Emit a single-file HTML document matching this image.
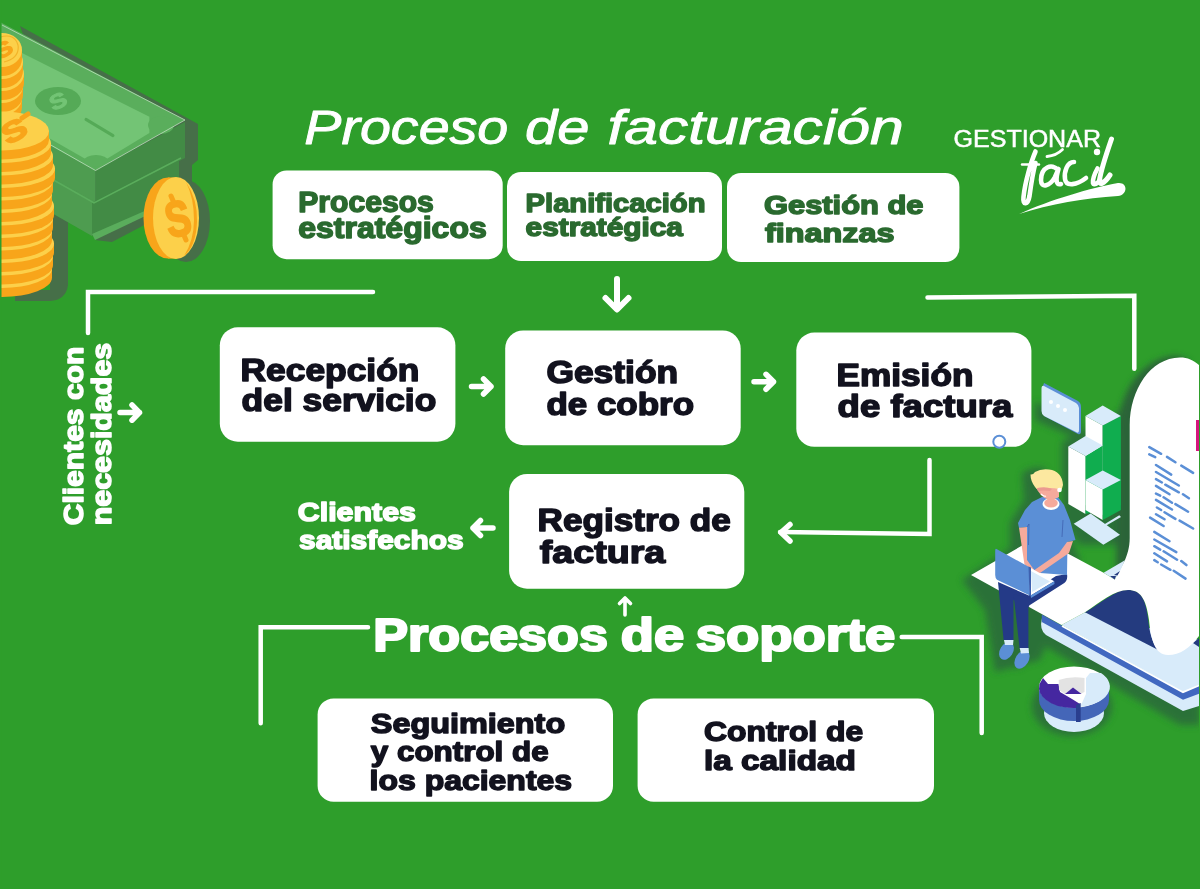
<!DOCTYPE html>
<html><head><meta charset="utf-8"><style>
html,body{margin:0;padding:0;background:#2e9e2b;}
body{width:1200px;height:889px;overflow:hidden;position:relative;}
svg{position:absolute;left:0;top:0;display:block;will-change:transform;}
text{font-family:"Liberation Sans",sans-serif;}
</style></head><body>
<svg width="1200" height="889" viewBox="0 0 1200 889">
<rect width="1200" height="889" fill="#2e9e2b"/>
<defs>
<filter id="blur3" x="-50%" y="-50%" width="200%" height="200%"><feGaussianBlur stdDeviation="3"/></filter>
<filter id="blur5" x="-50%" y="-50%" width="200%" height="200%"><feGaussianBlur stdDeviation="3.5"/></filter>
</defs>
<!-- money shadow -->
<g fill="#466f48">
<polygon points="20,26 198,124 198,160 192,165 192,200 112,242 95,240 95,235"/>
<path d="M50,212 L68,222 L68,285 Q66,300 50,301 L15,301 L15,290 L50,290 Z"/>
</g>
<!-- money stack -->
<polygon points="0,114 95.7,170 95.7,204 0,150" fill="#4e9c50"/>
<polygon points="95.7,170 185,122 185,158 95.7,204" fill="#428b45"/>
<polygon points="50,176 94,201 92,236 50,212" fill="#4e9c50"/>
<polygon points="92,203 179,157 179,200 92,236" fill="#428b45"/><polyline points="50,178 94,203 181,158" fill="none" stroke="#5aad5c" stroke-width="1.5"/>
<polygon points="92,234 179,196 181,199 95,240" fill="#5aad5c"/>
<polygon points="0,22 185,120 95.5,170.5 0,118" fill="#5aae5c"/>
<polygon points="0,42 149.4,116.7 149.4,133 107.5,158.6 84.6,158.6 0,110" fill="#73c475"/>
<ellipse cx="161" cy="125" rx="13" ry="9" fill="#5aae5c"/>
<ellipse cx="96" cy="161" rx="12" ry="6" fill="#5aae5c"/>
<ellipse cx="58" cy="101" rx="23" ry="14" fill="#55aa57"/>
<g transform="translate(58,101) rotate(-25) scale(1,0.8)"><text x="0" y="9" font-size="26" font-weight="bold" fill="#73c475" stroke="#73c475" stroke-width="1.2" text-anchor="middle" style="font-family:'Liberation Sans'">S</text></g>
<line x1="86" y1="119.4" x2="113" y2="135.6" stroke="#55aa57" stroke-width="3" stroke-linecap="round"/>
<polyline points="2,25 185,120 95.5,170.5 50.8,145" fill="none" stroke="#d8ecd8" stroke-width="0.8" opacity="0.8"/>
<!-- single coin -->
<ellipse cx="186" cy="221" rx="24" ry="41" fill="#466f48"/>
<ellipse cx="168" cy="218" rx="24.5" ry="40.5" fill="#f8a51a"/>
<rect x="168" y="177.5" width="8" height="81" fill="#f8a51a"/>
<ellipse cx="176" cy="218" rx="23" ry="41" fill="#fcd04a"/>
<path d="M186,182 Q198,200 197,222 Q196,246 184,256 Q194,240 194,220 Q194,198 186,182 Z" fill="#f8a51a"/>
<g transform="translate(178,219) rotate(-12) scale(0.75,1)"><text x="0" y="17" font-size="50" font-weight="bold" fill="#f8a51a" stroke="#f8a51a" stroke-width="2" text-anchor="middle" style="font-family:'Liberation Sans'">S</text></g>
<line x1="171" y1="196" x2="174" y2="203" stroke="#f8a51a" stroke-width="5" stroke-linecap="round"/>
<line x1="183" y1="233" x2="186" y2="240" stroke="#f8a51a" stroke-width="5" stroke-linecap="round"/>
<!-- back coin stack -->
<g><rect x="-18" y="98" width="40" height="9" fill="#f8a51a"/><ellipse cx="2" cy="107" rx="20" ry="17" fill="#f8a51a"/><ellipse cx="2" cy="98" rx="20" ry="17" fill="#fcd04a"/><rect x="-19" y="86" width="42" height="9" fill="#f8a51a"/><ellipse cx="2" cy="95" rx="21" ry="17" fill="#f8a51a"/><ellipse cx="2" cy="86" rx="21" ry="17" fill="#fcd04a"/><rect x="-20" y="74" width="44" height="9" fill="#f8a51a"/><ellipse cx="2" cy="83" rx="22" ry="17" fill="#f8a51a"/><ellipse cx="2" cy="74" rx="22" ry="17" fill="#fcd04a"/><rect x="-19" y="62" width="42" height="9" fill="#f8a51a"/><ellipse cx="2" cy="71" rx="21" ry="17" fill="#f8a51a"/><ellipse cx="2" cy="62" rx="21" ry="17" fill="#fcd04a"/><rect x="-18" y="50" width="40" height="9" fill="#f8a51a"/><ellipse cx="2" cy="59" rx="20" ry="17" fill="#f8a51a"/><ellipse cx="2" cy="50" rx="20" ry="17" fill="#fcd04a"/>
<path d="M-8,40 Q14,30 18,45 Q20,58 4,62" fill="none" stroke="#f3b42a" stroke-width="1.2"/>
<g transform="translate(4,50) rotate(-30) scale(1,0.8)"><text x="0" y="8" font-size="26" font-weight="bold" fill="#f8a51a" stroke="#f8a51a" stroke-width="1.5" text-anchor="middle" style="font-family:'Liberation Sans'">S</text></g>
</g>
<!-- front coin stack -->
<g><rect x="-48" y="268.5" width="100" height="9" fill="#f8a51a"/><ellipse cx="2" cy="277.5" rx="50" ry="19.5" fill="#f8a51a"/><ellipse cx="2" cy="268.5" rx="50" ry="19.5" fill="#fcd04a"/><rect x="-49" y="256.0" width="102" height="9" fill="#f8a51a"/><ellipse cx="2" cy="265.0" rx="51" ry="19.5" fill="#f8a51a"/><ellipse cx="2" cy="256.0" rx="51" ry="19.5" fill="#fcd04a"/><rect x="-50" y="243.5" width="104" height="9" fill="#f8a51a"/><ellipse cx="2" cy="252.5" rx="52" ry="19.5" fill="#f8a51a"/><ellipse cx="2" cy="243.5" rx="52" ry="19.5" fill="#fcd04a"/><rect x="-48" y="231.0" width="100" height="9" fill="#f8a51a"/><ellipse cx="2" cy="240.0" rx="50" ry="19.5" fill="#f8a51a"/><ellipse cx="2" cy="231.0" rx="50" ry="19.5" fill="#fcd04a"/><rect x="-49" y="218.5" width="102" height="9" fill="#f8a51a"/><ellipse cx="2" cy="227.5" rx="51" ry="19.5" fill="#f8a51a"/><ellipse cx="2" cy="218.5" rx="51" ry="19.5" fill="#fcd04a"/><rect x="-50" y="206.0" width="104" height="9" fill="#f8a51a"/><ellipse cx="2" cy="215.0" rx="52" ry="19.5" fill="#f8a51a"/><ellipse cx="2" cy="206.0" rx="52" ry="19.5" fill="#fcd04a"/><rect x="-48" y="193.5" width="100" height="9" fill="#f8a51a"/><ellipse cx="2" cy="202.5" rx="50" ry="19.5" fill="#f8a51a"/><ellipse cx="2" cy="193.5" rx="50" ry="19.5" fill="#fcd04a"/><rect x="-49" y="181.0" width="102" height="9" fill="#f8a51a"/><ellipse cx="2" cy="190.0" rx="51" ry="19.5" fill="#f8a51a"/><ellipse cx="2" cy="181.0" rx="51" ry="19.5" fill="#fcd04a"/><rect x="-51" y="168.5" width="106" height="9" fill="#f8a51a"/><ellipse cx="2" cy="177.5" rx="53" ry="19.5" fill="#f8a51a"/><ellipse cx="2" cy="168.5" rx="53" ry="19.5" fill="#fcd04a"/><rect x="-49" y="156.0" width="102" height="9" fill="#f8a51a"/><ellipse cx="2" cy="165.0" rx="51" ry="19.5" fill="#f8a51a"/><ellipse cx="2" cy="156.0" rx="51" ry="19.5" fill="#fcd04a"/><rect x="-47" y="143.5" width="98" height="9" fill="#f8a51a"/><ellipse cx="2" cy="152.5" rx="49" ry="19.5" fill="#f8a51a"/><ellipse cx="2" cy="143.5" rx="49" ry="19.5" fill="#fcd04a"/><rect x="-45" y="131.0" width="94" height="9" fill="#f8a51a"/><ellipse cx="2" cy="140.0" rx="47" ry="19.5" fill="#f8a51a"/><ellipse cx="2" cy="131.0" rx="47" ry="19.5" fill="#fcd04a"/>
<g transform="translate(14,131) rotate(-28) scale(1,0.75)"><text x="0" y="13" font-size="38" font-weight="bold" fill="#f8a51a" stroke="#f8a51a" stroke-width="2" text-anchor="middle" style="font-family:'Liberation Sans'">S</text></g>
<line x1="22" y1="118" x2="28" y2="114" stroke="#f8a51a" stroke-width="5" stroke-linecap="round"/>
</g>
<rect x="0" y="0" width="1.5" height="889" fill="#2e9e2b"/>
<!-- right-side shadows -->
<g fill="#2b6a3a" filter="url(#blur5)" opacity="0.85">
<path d="M1035,402 L1080,420 L1080,440 L1035,420 Z"/>
<path d="M1062,442 L1085,430 L1125,410 L1125,545 L1080,545 L1062,520 Z"/>
<path d="M962,580 L1015,545 L1060,515 L1080,560 L1040,660 L995,672 L985,610 Z"/>
<path d="M1022,474 Q1030,466 1045,468 L1050,500 L1060,510 L1062,560 L1010,560 L1010,523 L1024,500 Z"/>
<path d="M988,585 L1010,585 L1008,650 L1022,668 L995,668 Z"/>
<path d="M1034,620 L1200,700 L1200,725 L1180,725 L1034,640 Z"/>
<ellipse cx="1072" cy="706" rx="40" ry="30"/>
</g>
<g fill="#2a6338" filter="url(#blur3)">
<path d="M1118,432 C1118,390 1144,358 1174,356 C1180,356 1186,358 1190,362 L1150,420 L1150,600 L1116,600 Z"/>
</g>
<!-- lower slab -->
<path d="M1042,618 L1183,692 L1199,685 L1199,706 L1183,711 L1046,635 Q1039,630 1042,618 Z" fill="#d8ebfa"/>
<polygon points="1041.8,614.5 1183,692.2 1199,685.5 1199,693.7 1183,699.8 1041.8,622" fill="#4168c0"/>
<!-- upper slab face -->
<polygon points="1061.5,625 1085,612.3 1199,640 1199,685.5 1183,692" fill="#d8ebfa"/>
<polyline points="1062,626 1183,692.2 1199,685.5" fill="none" stroke="#ffffff" stroke-width="1.8"/>
<!-- navy curl -->
<path d="M1085,612.3 C1100,604 1115,590 1128,590 C1142,590 1146,602 1148,618 C1150,640 1156,652 1166,654 Z" fill="#243b7f"/>
<polygon points="1193,643 1199,638 1199,647" fill="#243b7f"/>
<!-- receipt paper & flat sheet -->
<path d="M1129.7,425 C1130,390 1150,358 1180,357.5 C1188,357.5 1193,360 1199,365 L1199,636 C1190,648 1180,655 1168,655 C1155,655 1151,640 1149,620 C1146,598 1140,590 1128,590 C1115,590 1100,602 1085,612.3 L1061.5,625 L971,575 L1037,537 L1103.6,572.8 L1114.7,579.5 L1124.9,560.3 C1127,555 1129.7,548 1129.7,538 Z" fill="#ffffff"/>
<polygon points="1103.6,572.8 1124.9,560.3 1120,571 1114.7,579.5" fill="#d8ebfa"/>
<polygon points="1110,576 1114.7,579.5 1116,576" fill="#243b7f"/><polygon points="1114,575 1120,571 1117.5,575.5" fill="#243b7f"/>
<!-- receipt dashes -->
<g stroke="#5b8fd6" stroke-width="2.5" stroke-linecap="round" fill="none">
<path d="M1149.3,447.1 L1161.1,453.8 M1149.3,454.3 L1155.2,457.2 M1167.0,456.9 L1175.4,462.3 M1181.3,465.6 L1193.1,472.9 M1156.0,465.0 L1171.2,474.6 M1156.0,472.0 L1178.8,485.5 M1156.0,479.1 L1161.9,482.5 M1156.0,485.9 L1169.5,494.3 M1165.3,484.7 L1178.8,492.3 M1183.0,494.3 L1188.9,498.2 M1156.0,493.6 L1160.2,495.6 M1163.6,497.3 L1172.0,502.7 M1156.0,499.9 L1172.0,509.5 M1175.4,504.1 L1188.1,511.7 M1156.9,507.5 L1161.1,510.0 M1164.5,512.2 L1175.4,518.9 M1156.0,514.2 L1164.5,519.3 M1150.1,517.6 L1163.6,526.0 M1179.6,520.6 L1193.1,528.5 M1154.3,531.9 L1169.5,541.2 M1154.3,539.5 L1176.3,552.1 M1154.3,546.2 L1160.2,549.6 M1163.6,551.3 L1177.1,559.7 M1154.3,553.3 L1167.0,561.4 M1154.3,560.1 L1157.7,562.3 M1181.3,561.1 L1186.4,565.1 M1161.1,564.5 L1170.4,569.8 M1173.7,570.7 L1185.5,578.6"/>
</g>
<rect x="1196" y="420" width="4" height="31" fill="#d6157e"/>
<rect x="1199" y="362" width="1" height="527" fill="#2e9e2b"/>
<!-- floor tile -->
<polygon points="1073.7,523.7 1090.6,513.6 1120,534.7 1103.3,544.8" fill="#d8ebfa"/>
<polygon points="1104,524.6 1119.3,515.3 1121,517 1105,526.3" fill="#d8ebfa"/>
<!-- bar chart -->
<g>
<polygon points="1085.5,416 1102.7,425.5 1102.7,515 1085.5,505" fill="#ffffff"/>
<polygon points="1102.7,425.5 1120.9,416 1120.9,505 1102.7,515" fill="#10ad4f"/>
<polygon points="1102.7,405.4 1120.9,416 1102.7,425.5 1085.5,416" fill="#d8ebfa"/>
<polygon points="1068.3,446.5 1085.5,456 1085.5,514 1068.3,504" fill="#ffffff"/>
<polygon points="1085.5,456 1102.7,445.6 1102.7,510 1085.5,514" fill="#10ad4f"/>
<polygon points="1085.5,436 1102.7,445.6 1085.5,456 1068.3,446.5" fill="#d8ebfa"/>
<polygon points="1085.5,480 1102.7,489.6 1102.7,520 1085.5,510" fill="#ffffff"/>
<polygon points="1102.7,489.6 1120.9,480 1120.9,510 1102.7,520" fill="#10ad4f"/>
<polygon points="1102.7,470.4 1120.9,480 1102.7,489.6 1085.5,480" fill="#d8ebfa"/>
</g>
<!-- chat bubble -->
<path d="M1044,383 L1078,401 Q1081,403 1081,407 L1081,431 Q1081,435 1078,434 L1046,417 Q1043,415 1043,411 L1043,386 Z" fill="#5b8fd6"/>
<path d="M1044,386 L1076,403 Q1079,405 1079,408 L1079,430 Q1079,434 1076,432 L1044,416 Q1041.5,414 1041.5,411 L1041.5,389 Q1041.5,385 1044,386 Z" fill="#d8ebfa"/>
<g fill="#ffffff"><circle cx="1051" cy="402" r="2"/><circle cx="1058" cy="406" r="2"/><circle cx="1065" cy="410" r="2"/></g>
<!-- person -->
<g>
<!-- legs -->
<path d="M998,582 L1030,596 L1029,607 L1013.5,600 L1013.5,640 L1003.6,640 Z" fill="#243a87"/>
<path d="M1013.5,594 L1028.4,598 L1029.6,593 L1056,576 L1067,574 Q1068,580 1064.3,583 L1028.4,606 L1028.4,649 L1019.7,649 Z" fill="#243a87"/>
<ellipse cx="1006.5" cy="651" rx="6.5" ry="9.5" transform="rotate(32 1006.5 651)" fill="#5b8fd6"/>
<ellipse cx="1022" cy="659.5" rx="6.5" ry="10" transform="rotate(32 1022 659.5)" fill="#5b8fd6"/>
<path d="M1004,640 L1013.5,640 L1013,645 L1005,645 Z" fill="#d8ebfa"/>
<path d="M1019.7,648 L1028.6,648 L1029,653 L1021,653.5 Z" fill="#d8ebfa"/>
<!-- shirt -->
<path d="M1032,502 L1042,497 L1058,497 L1064,505 L1070,520 L1075.5,540 L1067.5,542 L1067,575 L1026.7,572 L1027,527 L1019,528 L1018,523 L1025,510 Z" fill="#5b8fd6"/>
<path d="M1027,527 L1029,524 L1028.5,545" stroke="#3f62b0" stroke-width="0.8" fill="none"/>
<path d="M1063,520 L1062,537" stroke="#3f62b0" stroke-width="0.8" fill="none"/>
<!-- arms -->
<path d="M1019,527.7 L1027,527 L1027,560 L1035,571 L1033,575 L1024.4,564 Z" fill="#f5aa9c"/>
<path d="M1067,542 L1073,541 L1069,553 L1040,573 L1034,576 L1033,571 L1059,553 Z" fill="#f5aa9c"/>
<!-- laptop base -->
<polygon points="1029.1,567.1 1054.3,581.3 1030.7,595.4" fill="#ffffff"/>
<polygon points="1031,571 1050,581.5 1032,592" fill="#d8ebfa"/>
<polygon points="1030.7,595.4 1054.3,581.3 1054.5,584 1031,598" fill="#5b8fd6"/>
<!-- laptop screen -->
<path d="M996.5,549 L1029.1,567.1 L1029.9,595.4 L997,579.7 Q995.2,578 995.2,575 L995.2,551 Q995.2,548 996.5,549 Z" fill="#5b8fd6"/>
<polygon points="1028.5,566.5 1031,567.5 1031,596 1029.5,596" fill="#3f62b0"/>
<!-- neck/collar -->
<ellipse cx="1051" cy="504" rx="8.5" ry="6" fill="#ffffff"/>
<ellipse cx="1051" cy="503" rx="6.8" ry="4.6" fill="#f5aa9c"/>
<!-- face -->
<path d="M1035.4,486 L1059,488 L1059,497 Q1052,501 1048,499.5 Q1040,497 1035.4,486 Z" fill="#f5aa9c"/>
<path d="M1041,494 Q1044,497 1046,496" stroke="#ffffff" stroke-width="1.2" fill="none"/>
<!-- hair -->
<path d="M1030.5,474.5 Q1033,475 1035,472 Q1041,468.5 1049,469.5 Q1062,471 1063,485 Q1062.5,489 1060,491 L1059,489 Q1050,487 1040,489 Q1036.5,490 1035,487 Q1030.5,481 1030.5,474.5 Z" fill="#fce8a0"/>
<path d="M1037,488 Q1046,486 1052,489 L1050,491 Q1043,490 1038,491 Z" fill="#eb9a90"/>
<circle cx="1059.5" cy="490" r="2.3" fill="#ffffff"/>
</g>
<!-- donut -->
<g>
<ellipse cx="1074" cy="713" rx="30" ry="19" fill="#d8ebfa"/>
<path d="M1039,687 L1039,700 A35,21 0 0 0 1109,700 L1109,687 Z" fill="#4466b8"/>
<ellipse cx="1074" cy="687" rx="35" ry="20.5" fill="#ffffff"/>
<path d="M1039.5,684 L1043,678 L1048,684 L1058.5,684 L1060,692 L1072,699 L1080,704 L1077,708 A35,20.5 0 0 1 1039,689 Z" fill="#4527a0"/>
<path d="M1086,678 L1090,673 L1101,673 A35,20.5 0 0 1 1079,707 L1082,703 L1086,694 Z" fill="#d8ebfa"/>
<path d="M1058.7,680 Q1070,676 1084.5,678 L1084.5,692 L1080,694 L1073,688 L1065,694 L1059,690 Z" fill="#e3e3e3"/>
<polygon points="1065,694 1073,687.5 1081.5,694" fill="#4527a0"/>
<polygon points="1076,705 1080.7,703 1080.7,722 1076,722" fill="#2a3f8f"/>
</g>
<!-- logo -->
<text x="953.5" y="146.6" font-size="23.5" fill="#ffffff" stroke="#ffffff" stroke-width="0.5" textLength="147.5" lengthAdjust="spacingAndGlyphs" style="font-family:'Liberation Sans'">GESTIONAR</text>
<g fill="none" stroke="#ffffff" stroke-linecap="round" stroke-linejoin="round">
<!-- f -->
<path d="M1035.5,151.5 C1031,162 1025,182 1023.5,197 C1022.5,206 1028,205 1029.5,196 C1031,185 1033,172 1035.5,163" stroke-width="4.6"/>
<path d="M1022,164.5 L1039,164.5" stroke-width="2.4"/>
<!-- a -->
<path d="M1058,170 C1052,163 1041,167 1041,180 C1041,189 1050,186 1055,177 L1058.5,169 C1056,177 1055,186 1061,184" stroke-width="4.6"/>
<path d="M1047,156.5 C1052,156 1058,154 1062.5,149.5" stroke-width="2.8"/>
<!-- c -->
<path d="M1074,162 C1067,162 1064,172 1065,179 C1066,187 1077,185 1086,178" stroke-width="4.6"/>
<!-- i -->
<path d="M1097.5,168.5 C1095,173 1092.5,179 1093,183 C1094,186 1098,183 1100,180" stroke-width="4.6"/>
<circle cx="1097" cy="152" r="3.2" fill="#ffffff" stroke="none"/>
<!-- l -->
<path d="M1111.5,139 C1107,152 1101,170 1099.5,180 C1099,186 1104,184 1110,175" stroke-width="5"/>
</g>
<path d="M1019,214 C1050,200 1090,188 1118,183 C1128,182 1128,195 1118,196 C1085,198 1050,204 1019,214 Z" fill="#ffffff"/>

<rect x="272.6" y="170.4" width="230.1" height="88.8" rx="14" fill="#fff"/><rect x="507.0" y="172.0" width="215.0" height="89.0" rx="14" fill="#fff"/><rect x="727.0" y="173.0" width="232.4" height="89.0" rx="14" fill="#fff"/><rect x="219.8" y="327.3" width="235.6" height="114.4" rx="18" fill="#fff"/><rect x="505.2" y="330.4" width="235.5" height="114.8" rx="18" fill="#fff"/><rect x="796.3" y="332.6" width="235.1" height="114.2" rx="18" fill="#fff"/><rect x="509.1" y="474.0" width="235.2" height="114.7" rx="18" fill="#fff"/><rect x="317.6" y="698.4" width="295.4" height="103.4" rx="16" fill="#fff"/><rect x="637.6" y="698.4" width="296.4" height="103.4" rx="16" fill="#fff"/>
<g fill="none" stroke="#fff" stroke-width="4.5" stroke-linecap="round" stroke-linejoin="miter">
<polyline points="373,292 88,292 88,333"/>
<polyline points="927.5,297.5 1134.3,295.8 1134.3,368.7"/>
<polyline points="929.5,460 929.5,534 780,532"/>
<polyline points="368,627.3 260.7,627.3 260.7,723.3"/>
<polyline points="901.7,637 981.7,637 981.7,733"/>
</g>
<g fill="none" stroke="#fff" stroke-width="5.5" stroke-linecap="round" stroke-linejoin="round">
<path d="M790,524.5 L781,532.5 L790,541"/>
<path d="M120,412.6 H139.5 M132,405 L139.5,412.6 L132,420.2"/>
<path d="M493,528 H473 M480.5,520.5 L473,528 L480.5,535.5"/>
<path d="M471.5,386.5 H491 M483.5,379 L491,386.5 L483.5,394"/>
<path d="M754,381.8 H773.5 M766,374.3 L773.5,381.8 L766,389.3"/>
<path d="M617,279 V309 M605.5,298 L617,309.5 L628.5,298" stroke-width="6"/>
<path d="M625,615 V599 M619.5,603.5 L625,598 L630.5,603.5" stroke-width="3.6"/>
</g>
<!-- blue circle on Emision box -->
<circle cx="999.3" cy="441.8" r="6" fill="#ffffff" stroke="#5b8fd6" stroke-width="2"/>

<text x="304.3" y="143.8" font-size="49.00" font-weight="normal" font-style="italic" fill="#ffffff" stroke="#ffffff" stroke-width="0.9" stroke-linejoin="round" textLength="204.0" lengthAdjust="spacingAndGlyphs">Proceso</text><text x="525.1" y="143.8" font-size="49.00" font-weight="normal" font-style="italic" fill="#ffffff" stroke="#ffffff" stroke-width="0.9" stroke-linejoin="round" textLength="64.3" lengthAdjust="spacingAndGlyphs">de</text><text x="607.5" y="143.8" font-size="49.00" font-weight="normal" font-style="italic" fill="#ffffff" stroke="#ffffff" stroke-width="0.9" stroke-linejoin="round" textLength="296.2" lengthAdjust="spacingAndGlyphs">facturación</text><text x="298.3" y="211.5" font-size="28.64" font-weight="bold" font-style="normal" fill="#2a6a2f" stroke="#2a6a2f" stroke-width="1.5" stroke-linejoin="round" textLength="135.5" lengthAdjust="spacingAndGlyphs">Procesos</text><text x="298.2" y="237.9" font-size="28.64" font-weight="bold" font-style="normal" fill="#2a6a2f" stroke="#2a6a2f" stroke-width="1.5" stroke-linejoin="round" textLength="188.6" lengthAdjust="spacingAndGlyphs">estratégicos</text><text x="525.6" y="211.5" font-size="26.50" font-weight="bold" font-style="normal" fill="#2a6a2f" stroke="#2a6a2f" stroke-width="1.5" stroke-linejoin="round" textLength="179.9" lengthAdjust="spacingAndGlyphs">Planificación</text><text x="525.6" y="235.5" font-size="26.50" font-weight="bold" font-style="normal" fill="#2a6a2f" stroke="#2a6a2f" stroke-width="1.5" stroke-linejoin="round" textLength="157.3" lengthAdjust="spacingAndGlyphs">estratégica</text><text x="764.0" y="213.5" font-size="26.50" font-weight="bold" font-style="normal" fill="#2a6a2f" stroke="#2a6a2f" stroke-width="1.5" stroke-linejoin="round" textLength="159.5" lengthAdjust="spacingAndGlyphs">Gestión de</text><text x="765.1" y="241.5" font-size="26.50" font-weight="bold" font-style="normal" fill="#2a6a2f" stroke="#2a6a2f" stroke-width="1.5" stroke-linejoin="round" textLength="129.4" lengthAdjust="spacingAndGlyphs">finanzas</text><text x="240.5" y="380.5" font-size="31.07" font-weight="bold" font-style="normal" fill="#12121e" stroke="#12121e" stroke-width="1.5" stroke-linejoin="round" textLength="178.9" lengthAdjust="spacingAndGlyphs">Recepción</text><text x="241.6" y="411.3" font-size="31.07" font-weight="bold" font-style="normal" fill="#12121e" stroke="#12121e" stroke-width="1.5" stroke-linejoin="round" textLength="194.7" lengthAdjust="spacingAndGlyphs">del servicio</text><text x="546.4" y="383.4" font-size="30.93" font-weight="bold" font-style="normal" fill="#12121e" stroke="#12121e" stroke-width="1.5" stroke-linejoin="round" textLength="131.8" lengthAdjust="spacingAndGlyphs">Gestión</text><text x="546.4" y="414.8" font-size="30.93" font-weight="bold" font-style="normal" fill="#12121e" stroke="#12121e" stroke-width="1.5" stroke-linejoin="round" textLength="147.6" lengthAdjust="spacingAndGlyphs">de cobro</text><text x="836.5" y="385.5" font-size="30.93" font-weight="bold" font-style="normal" fill="#12121e" stroke="#12121e" stroke-width="1.5" stroke-linejoin="round" textLength="136.9" lengthAdjust="spacingAndGlyphs">Emisión</text><text x="837.6" y="417.0" font-size="30.93" font-weight="bold" font-style="normal" fill="#12121e" stroke="#12121e" stroke-width="1.5" stroke-linejoin="round" textLength="174.7" lengthAdjust="spacingAndGlyphs">de factura</text><text x="537.5" y="531.1" font-size="31.50" font-weight="bold" font-style="normal" fill="#12121e" stroke="#12121e" stroke-width="1.5" stroke-linejoin="round" textLength="193.3" lengthAdjust="spacingAndGlyphs">Registro de</text><text x="539.8" y="562.5" font-size="31.50" font-weight="bold" font-style="normal" fill="#12121e" stroke="#12121e" stroke-width="1.5" stroke-linejoin="round" textLength="125.5" lengthAdjust="spacingAndGlyphs">factura</text><text x="370.8" y="733.3" font-size="28.36" font-weight="bold" font-style="normal" fill="#12121e" stroke="#12121e" stroke-width="1.5" stroke-linejoin="round" textLength="194.4" lengthAdjust="spacingAndGlyphs">Seguimiento</text><text x="370.8" y="761.1" font-size="28.36" font-weight="bold" font-style="normal" fill="#12121e" stroke="#12121e" stroke-width="1.5" stroke-linejoin="round" textLength="177.9" lengthAdjust="spacingAndGlyphs">y control de</text><text x="369.6" y="789.5" font-size="28.36" font-weight="bold" font-style="normal" fill="#12121e" stroke="#12121e" stroke-width="1.5" stroke-linejoin="round" textLength="202.5" lengthAdjust="spacingAndGlyphs">los pacientes</text><text x="704.0" y="741.3" font-size="28.36" font-weight="bold" font-style="normal" fill="#12121e" stroke="#12121e" stroke-width="1.5" stroke-linejoin="round" textLength="159.2" lengthAdjust="spacingAndGlyphs">Control de</text><text x="704.0" y="769.5" font-size="28.36" font-weight="bold" font-style="normal" fill="#12121e" stroke="#12121e" stroke-width="1.5" stroke-linejoin="round" textLength="151.9" lengthAdjust="spacingAndGlyphs">la calidad</text><text x="373.3" y="650.5" font-size="45.57" font-weight="bold" font-style="normal" fill="#ffffff" stroke="#ffffff" stroke-width="2.2" stroke-linejoin="round" textLength="234.6" lengthAdjust="spacingAndGlyphs">Procesos</text><text x="620.8" y="650.5" font-size="45.57" font-weight="bold" font-style="normal" fill="#ffffff" stroke="#ffffff" stroke-width="2.2" stroke-linejoin="round" textLength="63.4" lengthAdjust="spacingAndGlyphs">de</text><text x="695.7" y="650.5" font-size="45.57" font-weight="bold" font-style="normal" fill="#ffffff" stroke="#ffffff" stroke-width="2.2" stroke-linejoin="round" textLength="199.5" lengthAdjust="spacingAndGlyphs">soporte</text><text x="297.8" y="520.8" font-size="26.07" font-weight="bold" font-style="normal" fill="#ffffff" stroke="#ffffff" stroke-width="1.5" stroke-linejoin="round" textLength="118.2" lengthAdjust="spacingAndGlyphs">Clientes</text><text x="299.0" y="548.6" font-size="26.07" font-weight="bold" font-style="normal" fill="#ffffff" stroke="#ffffff" stroke-width="1.5" stroke-linejoin="round" textLength="164.7" lengthAdjust="spacingAndGlyphs">satisfechos</text><text transform="translate(83.3,525.0) rotate(-90)" x="-0.3" y="0" font-size="28.50" font-weight="bold" fill="#ffffff" stroke="#ffffff" stroke-width="1.5" stroke-linejoin="round" textLength="178.6" lengthAdjust="spacingAndGlyphs">Clientes con</text><text transform="translate(110.9,525.0) rotate(-90)" x="-0.3" y="0" font-size="28.50" font-weight="bold" fill="#ffffff" stroke="#ffffff" stroke-width="1.5" stroke-linejoin="round" textLength="182.5" lengthAdjust="spacingAndGlyphs">necesidades</text>
</svg>
</body></html>
